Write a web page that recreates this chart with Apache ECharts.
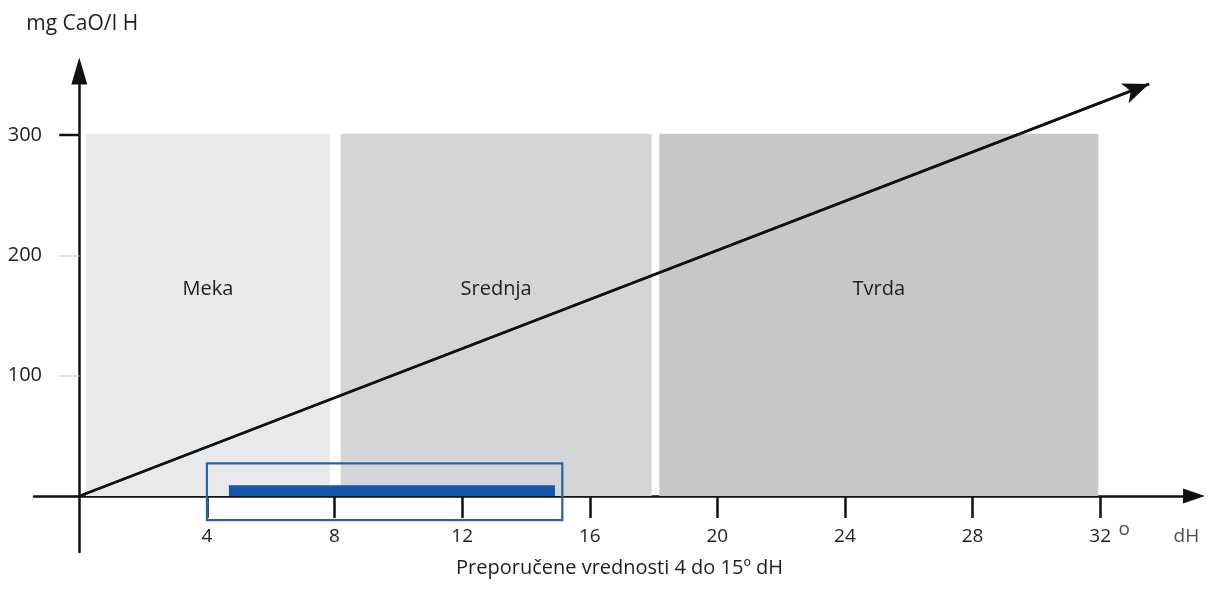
<!DOCTYPE html>
<html><head><meta charset="utf-8">
<script src="https://cdn.jsdelivr.net/npm/echarts@6/dist/echarts.min.js"></script>
<style>html,body{margin:0;padding:0;background:#fff}#c{width:1209px;height:604px}</style>
</head><body><div id="c"></div>
<script>
// ---- data ----
const zoneNames = ['Meka', 'Srednja', 'Tvrda'];
const zoneStart = [0.21, 8.19, 18.18];
const zoneEnd = [7.86, 17.94, 31.94];
const zoneTop = [301, 301, 301];
const xTicks = [4, 8, 12, 16, 20, 24, 28, 32];
const yTicks = [100, 200, 300];
const trendLine = [[0, 0], [33.53, 342.4]];
const recBoxX = [4, 15.14];
const recBoxY = [-20, 27.2];
const recBarX = [4.69, 14.91];
const recBarY = [0, 9];
const xUnitNotes = [[32.75, -28, 'o'], [34.7, -34, 'dH']];
const yAxisTitle = 'mg CaO/I H';
const bottomTitle = 'Preporučene vrednosti 4 do 15º dH';

// ---- style ----
const zoneColors = ['#e8e9eb', '#d4d5d7', '#c6c7c9'];
const FONT = '"Open Sans", "DejaVu Sans", sans-serif';
const TXT = '#1e1e1e';

const chart = echarts.init(document.getElementById('c'), null, {renderer: 'canvas'});

const zoneData = zoneNames.map((n, i) => [zoneStart[i], zoneEnd[i], zoneTop[i], n]);

function rectBetween(api, x0, x1, y0, y1) {
  const a = api.coord([x0, y1]);
  const b = api.coord([x1, y0]);
  return {x: a[0], y: a[1], width: b[0] - a[0], height: b[1] - a[1]};
}

chart.setOption({
  animation: false,
  backgroundColor: '#fff',
  title: {
    text: bottomTitle,
    left: 456,
    top: 558,
    padding: 0,
    textStyle: {fontFamily: FONT, fontSize: 20, fontWeight: 'normal', color: TXT}
  },
  grid: {left: 34, right: 15, top: 71, bottom: 52, containLabel: false, outerBoundsMode: 'none'},
  xAxis: {
    type: 'value', min: -1.42, max: 34.94,
    splitLine: {show: false},
    axisLine: {onZero: true, symbol: ['none', 'triangle'], symbolSize: [15, 22],
      lineStyle: {color: '#111', width: 2.5}},
    axisTick: {customValues: xTicks, length: 22, lineStyle: {color: '#111', width: 2.5}},
    axisLabel: {customValues: xTicks, margin: -25, fontFamily: FONT, fontSize: 19, color: TXT}
  },
  yAxis: {
    type: 'value', min: -46.5, max: 353.2,
    name: yAxisTitle, nameLocation: 'end', nameGap: 36,
    nameTextStyle: {fontFamily: FONT, fontSize: 21, color: TXT, padding: [0, 0, 0, 6]},
    splitLine: {show: false},
    axisLine: {onZero: true, symbol: ['none', 'triangle'], symbolSize: [16, 27],
      lineStyle: {color: '#111', width: 2.5}},
    axisTick: {customValues: yTicks, length: 20, lineStyle: {color: '#d8d8d8', width: 1.5}},
    axisLabel: {customValues: yTicks, margin: -8, fontFamily: FONT, fontSize: 20, color: TXT}
  },
  series: [
    {
      type: 'custom', name: 'zones', z: 1, silent: true,
      data: zoneData,
      renderItem(params, api) {
        const r = rectBetween(api, api.value(0), api.value(1), 0, api.value(2));
        return {type: 'group', children: [
          {type: 'rect', shape: r, style: {fill: zoneColors[params.dataIndex]}},
          {type: 'text', x: r.x + r.width / 2, y: r.y + r.height * 0.428,
            style: {text: zoneNames[params.dataIndex], align: 'center', verticalAlign: 'middle',
              font: '20px ' + FONT, fill: TXT}}
        ]};
      }
    },
    {
      type: 'custom', name: 'recBar', z: 3, silent: true,
      data: [[recBarX[0], recBarX[1], recBarY[0], recBarY[1]]],
      renderItem(params, api) {
        return {type: 'rect', shape: rectBetween(api, api.value(0), api.value(1), api.value(2), api.value(3)),
          style: {fill: '#1457ad'}};
      }
    },
    {
      type: 'custom', name: 'recBox', z: 4, silent: true,
      data: [[recBoxX[0], recBoxX[1], recBoxY[0], recBoxY[1]]],
      renderItem(params, api) {
        return {type: 'rect', shape: rectBetween(api, api.value(0), api.value(1), api.value(2), api.value(3)),
          style: {fill: 'none', stroke: '#2a62aa', lineWidth: 2.2}};
      }
    },
    {
      type: 'line', name: 'trend', z: 5, silent: true,
      data: trendLine, showSymbol: false, symbol: 'none',
      lineStyle: {color: '#111', width: 2.5},
      markLine: {
        silent: true, symbol: ['none', 'arrow'], symbolSize: [16, 26],
        label: {show: false},
        lineStyle: {color: '#111', width: 2.5, type: 'solid'},
        data: [[{coord: trendLine[0]}, {coord: trendLine[1]}]]
      }
    },
    {
      type: 'line', name: 'tick300', z: 5, silent: true,
      data: [[-0.63, yTicks[2]], [0, yTicks[2]]], symbol: 'none',
      lineStyle: {color: '#111', width: 2.5}
    },
    {
      type: 'scatter', name: 'notes', z: 5, silent: true, symbolSize: 0,
      data: xUnitNotes.map(d => ({value: [d[0], d[1]], label: {formatter: d[2]}})),
      label: {show: true, position: 'inside', fontFamily: FONT, fontSize: 19, color: TXT}
    }
  ]
});
</script></body></html>
